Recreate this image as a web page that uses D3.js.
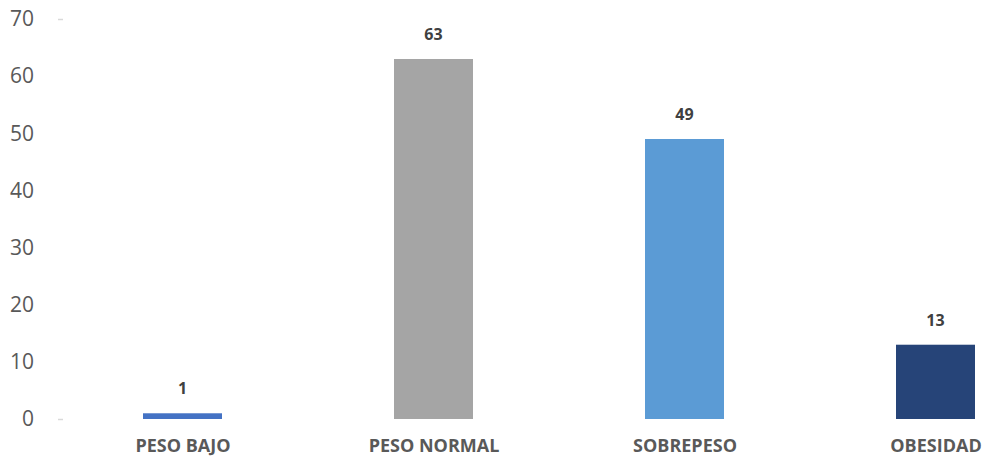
<!DOCTYPE html>
<html>
<head>
<meta charset="utf-8">
<script src="https://cdn.jsdelivr.net/npm/d3@7"></script>
<style>
  html, body { margin: 0; padding: 0; background: #ffffff; }
  svg { display: block; }
</style>
</head>
<body>
<svg id="chart" width="983" height="458"></svg>
<script>
// Categories and counts
const categories = ["PESO BAJO", "PESO NORMAL", "SOBREPESO", "OBESIDAD"];
const values = [1, 63, 49, 13];
const barColors = ["#4472C4", "#A5A5A5", "#5B9BD5", "#264478"];
const yTicks = [0, 10, 20, 30, 40, 50, 60, 70];

const svg = d3.select("#chart");

const y = d3.scaleLinear().domain([0, 70]).range([419, 19]);
const x = d3.scalePoint().domain(categories).range([182.5, 935.5]);
const barW = 79;

// Y axis: labels and short tick marks, no axis line
const yAxis = d3.axisLeft(y)
  .tickValues(yTicks)
  .tickSize(5)
  .tickPadding(24)
  .tickFormat(d3.format("d"));

const gy = svg.append("g")
  .attr("transform", "translate(63,0)")
  .call(yAxis);
gy.select(".domain").remove();
gy.selectAll(".tick line")
  .attr("stroke", "#d9d9d9")
  .attr("stroke-width", 1.5)
  .attr("opacity", d => (d === 0 || d === 70) ? 1 : 0);
gy.selectAll(".tick text")
  .attr("fill", "#595959")
  .style("font-family", "'Open Sans', sans-serif")
  .style("font-size", "21px");

// Bars
svg.append("g")
  .selectAll("rect")
  .data(values)
  .join("rect")
  .attr("x", (d, i) => x(categories[i]) - barW / 2)
  .attr("y", d => y(d))
  .attr("width", barW)
  .attr("height", d => y(0) - y(d))
  .attr("fill", (d, i) => barColors[i]);

// Value labels above bars
svg.append("g")
  .selectAll("text")
  .data(values)
  .join("text")
  .attr("x", (d, i) => x(categories[i]))
  .attr("y", d => y(d) - 19)
  .attr("text-anchor", "middle")
  .attr("fill", "#404040")
  .style("font-family", "'Open Sans', sans-serif")
  .style("font-weight", "bold")
  .style("font-size", "16px")
  .text(d => d);

// Category labels
const xAxis = d3.axisBottom(x).tickSize(0).tickPadding(20);
const gx = svg.append("g")
  .attr("transform", "translate(0,419)")
  .call(xAxis);
gx.select(".domain").remove();
gx.selectAll(".tick text")
  .attr("fill", "#595959")
  .style("font-family", "'Open Sans', sans-serif")
  .style("font-weight", "bold")
  .style("font-size", "18px");
</script>
</body>
</html>
